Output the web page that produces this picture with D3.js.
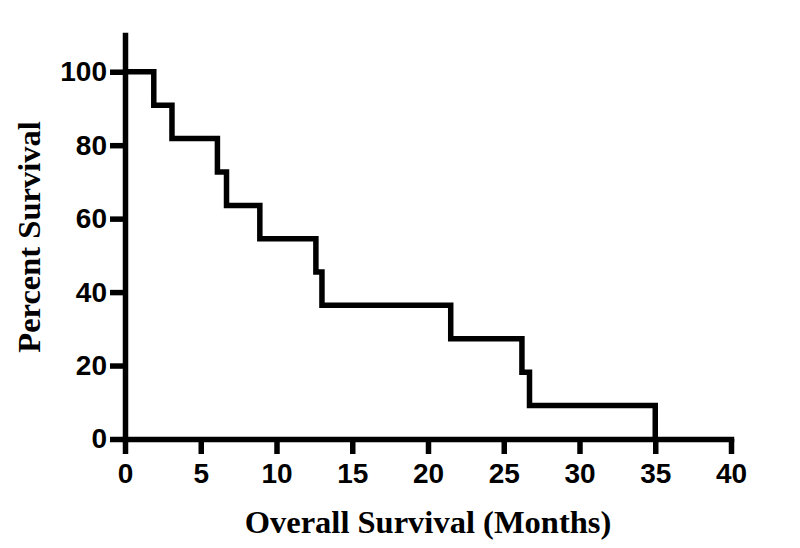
<!DOCTYPE html>
<html>
<head>
<meta charset="utf-8">
<script src="https://cdn.jsdelivr.net/npm/d3@7"></script>
<style>
  html, body { margin: 0; padding: 0; background: #fff; }
  svg { display: block; }
</style>
</head>
<body>
<script>
// Kaplan-Meier data
const times = [0, 1.9, 3.1, 6.1, 6.7, 8.9, 12.6, 13.0, 21.5, 26.2, 26.7, 35.0];
const survival = [100, 90.9, 81.8, 72.7, 63.6, 54.5, 45.5, 36.4, 27.3, 18.2, 9.1, 0];
const xTicks = [0, 5, 10, 15, 20, 25, 30, 35, 40];
const yTicks = [0, 20, 40, 60, 80, 100];
const xTitle = "Overall Survival (Months)";
const yTitle = "Percent Survival";

const W = 800, H = 548;
const margin = { top: 35, right: 69, bottom: 109, left: 125 };

const svg = d3.select("body").append("svg").attr("width", W).attr("height", H);

const x = d3.scaleLinear().domain([0, 40]).range([margin.left, W - margin.right]);
const y = d3.scaleLinear().domain([0, 110]).range([H - margin.bottom, margin.top]);

const tickFont = "'Liberation Sans', Arial, sans-serif";
const titleFont = "'Liberation Serif', 'Times New Roman', serif";
const SW = 5.5;

// X axis
const gx = svg.append("g")
  .attr("transform", `translate(0,${y(0)})`)
  .call(d3.axisBottom(x).tickValues(xTicks).tickSize(15).tickSizeOuter(0).tickPadding(9).tickFormat(d3.format("d")));

// Y axis
const gy = svg.append("g")
  .attr("transform", `translate(${x(0)},0)`)
  .call(d3.axisLeft(y).tickValues(yTicks).tickSize(15).tickSizeOuter(0).tickPadding(3).tickFormat(d3.format("d")));

[gx, gy].forEach(g => {
  g.select(".domain").attr("stroke", "#000").attr("stroke-width", SW).attr("stroke-linecap", "square");
  g.selectAll(".tick line").attr("stroke", "#000").attr("stroke-width", SW);
  g.selectAll(".tick text")
    .attr("fill", "#000")
    .style("font-family", tickFont)
    .style("font-weight", "bold")
    .style("font-size", "28px");
});

// KM curve
const pts = times.map((t, i) => [t, survival[i]]);
const line = d3.line().x(d => x(d[0])).y(d => y(d[1])).curve(d3.curveStepAfter);
svg.append("path")
  .datum(pts)
  .attr("d", line)
  .attr("fill", "none")
  .attr("stroke", "#000")
  .attr("stroke-width", SW)
  .attr("stroke-linejoin", "miter");

// Titles
svg.append("text")
  .attr("x", (x(0) + x(40)) / 2)
  .attr("y", 533)
  .attr("text-anchor", "middle")
  .style("font-family", titleFont)
  .style("font-weight", "bold")
  .style("font-size", "32.5px")
  .text(xTitle);

svg.append("text")
  .attr("transform", `translate(40,${(y(0) + y(110)) / 2}) rotate(-90)`)
  .attr("text-anchor", "middle")
  .style("font-family", titleFont)
  .style("font-weight", "bold")
  .style("font-size", "32.5px")
  .text(yTitle);
</script>
</body>
</html>
